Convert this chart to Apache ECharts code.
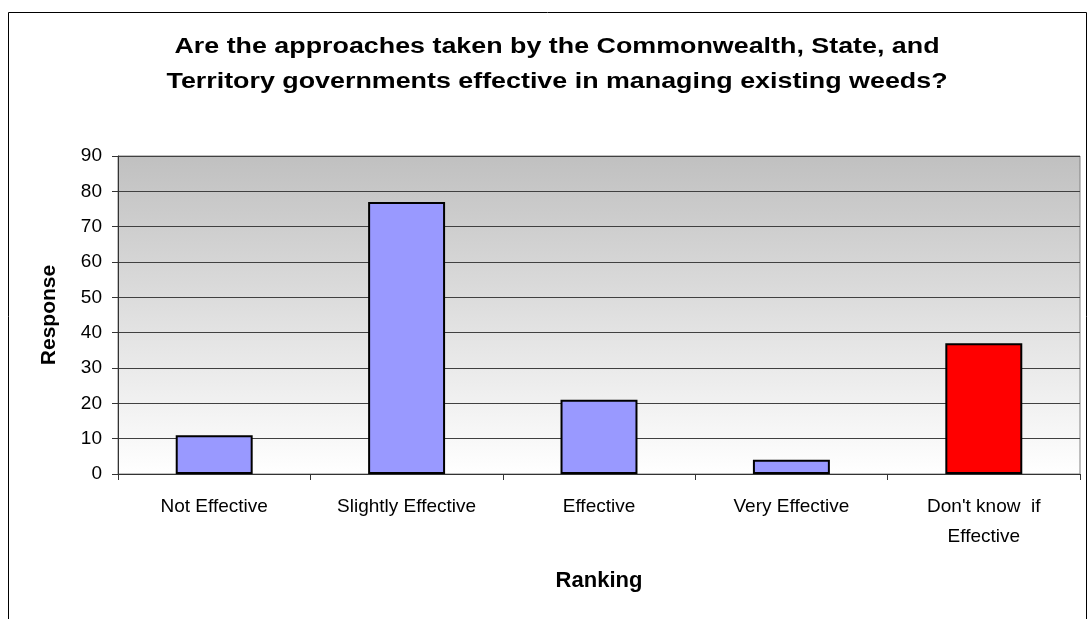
<!DOCTYPE html>
<html>
<head>
<meta charset="utf-8">
<script src="https://cdn.jsdelivr.net/npm/echarts@6/dist/echarts.min.js"></script>
<style>
  html, body { margin: 0; padding: 0; background: #fff; }
  #chart { width: 1088px; height: 619px; }
</style>
</head>
<body>
<div id="chart"></div>
<script>
// Survey answers per ranking category
const categories = ['Not Effective', 'Slightly Effective', 'Effective', 'Very Effective', "Don't know  if\nEffective"];
const responses = [11, 77, 21, 4, 37];
const barColors = ['#9999FF', '#9999FF', '#9999FF', '#9999FF', '#FF0000'];
const yTicks = [0, 10, 20, 30, 40, 50, 60, 70, 80, 90];
const titleText = 'Are the approaches taken by the Commonwealth, State, and\nTerritory governments effective in managing existing weeds?';

const font = '"Liberation Sans", Arial, sans-serif';
const chart = echarts.init(document.getElementById('chart'));

chart.setOption({
  animation: false,
  textStyle: { fontFamily: font },
  graphic: [
    {
      // chart frame
      type: 'rect',
      shape: { x: 8.5, y: 12.5, width: 1078, height: 620 },
      style: { fill: 'none', stroke: '#000', lineWidth: 1 },
      silent: true
    },
    {
      // wide bold heading
      type: 'text',
      x: 557,
      y: 29,
      scaleX: 1.22,
      style: {
        text: titleText,
        font: 'bold 22px ' + font,
        fill: '#000',
        textAlign: 'center',
        textVerticalAlign: 'top',
        lineHeight: 35
      },
      silent: true
    }
  ],
  grid: {
    left: 118, right: 8, top: 156, bottom: 145,
    show: true,
    borderColor: '#808080',
    borderWidth: 1,
    backgroundColor: new echarts.graphic.LinearGradient(0, 0, 0, 1, [
      { offset: 0, color: '#c0c0c0' },
      { offset: 1, color: '#ffffff' }
    ])
  },
  xAxis: {
    type: 'category',
    data: categories,
    name: 'Ranking',
    nameLocation: 'middle',
    nameGap: 96,
    nameTextStyle: { fontSize: 22, fontWeight: 'bold', color: '#000', fontFamily: font },
    axisLine: { lineStyle: { color: '#333', width: 1 } },
    axisTick: { show: true, length: 6, lineStyle: { color: '#333' } },
    axisLabel: { fontSize: 19, color: '#000', margin: 18, lineHeight: 30, interval: 0, fontFamily: font }
  },
  yAxis: {
    type: 'value',
    min: yTicks[0],
    max: yTicks[yTicks.length - 1],
    interval: 10,
    name: 'Response',
    nameLocation: 'middle',
    nameGap: 58,
    nameTextStyle: { fontSize: 21, fontWeight: 'bold', color: '#000', fontFamily: font },
    axisLine: { show: true, lineStyle: { color: '#333', width: 1 } },
    axisTick: { show: true, length: 6, lineStyle: { color: '#333' } },
    axisLabel: { fontSize: 19, color: '#000', margin: 16, fontFamily: font },
    splitLine: { show: true, lineStyle: { color: '#404040', width: 1 } }
  },
  series: [{
    type: 'bar',
    data: responses.map((v, i) => ({ value: v, itemStyle: { color: barColors[i] } })),
    barWidth: '40%',
    itemStyle: { borderColor: '#000', borderWidth: 2 }
  }]
});
</script>
</body>
</html>
